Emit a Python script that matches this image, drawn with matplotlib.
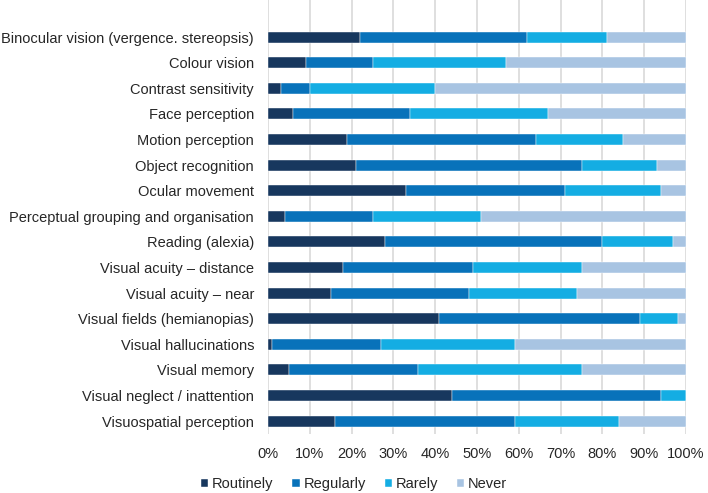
import matplotlib
matplotlib.use("Agg")
import matplotlib.pyplot as plt
import numpy as np

categories = [
    "Binocular vision (vergence. stereopsis)",
    "Colour vision",
    "Contrast sensitivity",
    "Face perception",
    "Motion perception",
    "Object recognition",
    "Ocular movement",
    "Perceptual grouping and organisation",
    "Reading (alexia)",
    "Visual acuity \u2013 distance",
    "Visual acuity \u2013 near",
    "Visual fields (hemianopias)",
    "Visual hallucinations",
    "Visual memory",
    "Visual neglect / inattention",
    "Visuospatial perception",
]
routinely = [22, 9, 3, 6, 19, 21, 33, 4, 28, 18, 15, 41, 1, 5, 44, 16]
regularly = [40, 16, 7, 28, 45, 54, 38, 21, 52, 31, 33, 48, 26, 31, 50, 43]
rarely = [19, 32, 30, 33, 21, 18, 23, 26, 17, 26, 26, 9, 32, 39, 6, 25]
never = [19, 43, 60, 33, 15, 7, 6, 49, 3, 25, 26, 2, 41, 25, 0, 16]
series_names = ["Routinely", "Regularly", "Rarely", "Never"]
colors = ["#17375E", "#0872BA", "#14ADE3", "#A8C4E2"]
xticks = [0, 10, 20, 30, 40, 50, 60, 70, 80, 90, 100]

plt.rcParams["font.family"] = ["Liberation Sans", "DejaVu Sans"]

fig = plt.figure(figsize=(7.08, 4.93), dpi=100)
ax = fig.add_axes([268/708, 1 - 434/493, (686-268)/708, 434/493])

y = np.arange(len(categories))
left = np.zeros(len(categories))
for name, vals, c in zip(series_names, [routinely, regularly, rarely, never], colors):
    vals = np.array(vals, dtype=float)
    ax.barh(y, vals, left=left, height=0.43, color=c, label=name, zorder=3,
            edgecolor="white", linewidth=0.3)
    left += vals

ax.set_xlim(0, 100)
ax.set_ylim(15.5, -1.45)
ax.set_yticks(y)
ax.set_yticklabels(categories, fontsize=10.5, color="#262626")
ax.set_xticks(xticks)
ax.set_xticklabels([f"{v}%" for v in xticks], fontsize=10.5, color="#262626")
ax.tick_params(axis="y", length=0, pad=10)
ax.tick_params(axis="x", length=0, pad=9.5)
ax.grid(axis="x", color="#D9D9D9", linewidth=1.2, zorder=0)
for s in ax.spines.values():
    s.set_visible(False)

handles, labels = ax.get_legend_handles_labels()
fig.legend(handles, labels, loc="center", bbox_to_anchor=(0.50, 1 - 484/493),
           ncol=4, frameon=False, fontsize=10.5, handlelength=0.5, handleheight=0.5,
           handletextpad=0.25, columnspacing=1.3, labelcolor="#262626")

fig.savefig("out.png", dpi=100)
